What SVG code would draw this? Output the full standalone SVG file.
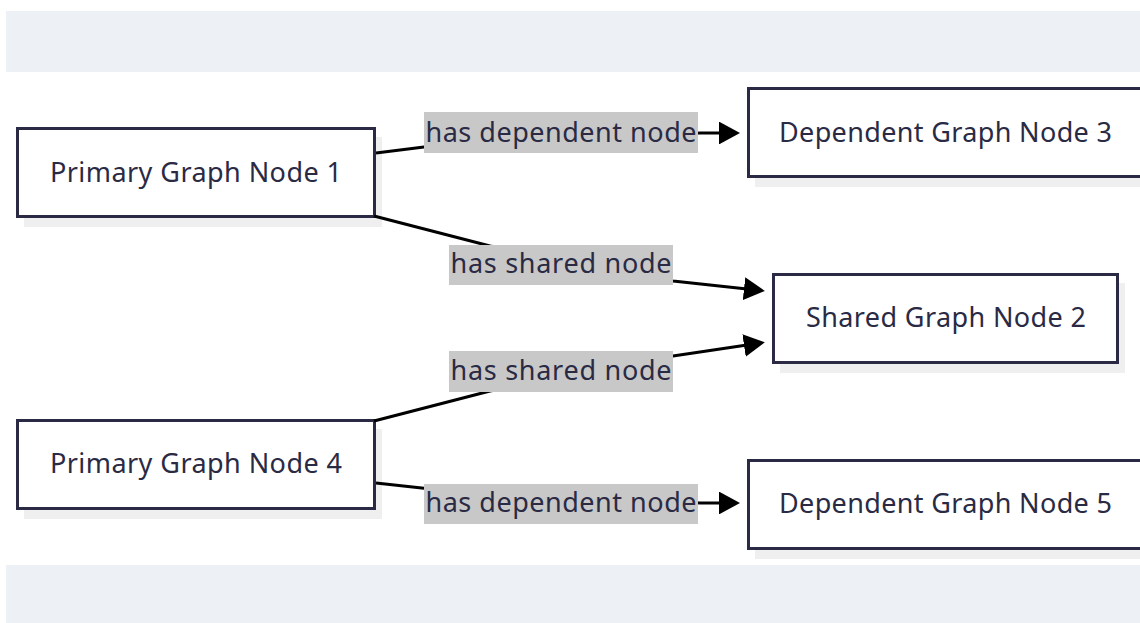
<svg xmlns="http://www.w3.org/2000/svg" width="1140" height="623" viewBox="0 0 1140 623">
  <style>
    .band { fill: #edf1f5; }
    .shadow { fill: #efefef; }
    .box { fill: #ffffff; stroke: #2a2a44; stroke-width: 3; }
    .ntext { font-family: "Noto Sans", "Open Sans", sans-serif; font-size: 27px; fill: #2a2a44; text-anchor: middle; }
    .edge { fill: none; stroke: #000000; stroke-width: 3; }
    .lbl { fill: #c8c8c8; }
    .ltext { font-family: "Noto Sans", "Open Sans", sans-serif; font-size: 27px; fill: #2a2a44; text-anchor: middle; }
  </style>
  <defs>
    <marker id="arrow" markerWidth="8" markerHeight="7.6" refX="1" refY="3.8" orient="auto" markerUnits="strokeWidth">
      <path d="M0,0 L7,3.8 L0,7.6 Z" fill="#000000"/>
    </marker>
  </defs>

  <!-- page bands -->
  <rect class="band" x="6" y="11" width="1134" height="61"/>
  <rect class="band" x="6" y="565" width="1134" height="58"/>

  <!-- nodes -->
  <g id="node1">
    <rect class="shadow" x="24" y="137" width="358" height="90"/>
    <rect class="box" x="17.5" y="128.5" width="357" height="88"/>
    <text class="ntext" x="196" y="182" textLength="292" lengthAdjust="spacing">Primary Graph Node 1</text>
  </g>
  <g id="node2">
    <rect class="shadow" x="780" y="283" width="345" height="90"/>
    <rect class="box" x="773.5" y="274.5" width="344" height="88"/>
    <text class="ntext" x="946" y="327" textLength="280" lengthAdjust="spacing">Shared Graph Node 2</text>
  </g>
  <g id="node3">
    <rect class="shadow" x="755" y="97" width="400" height="90"/>
    <rect class="box" x="748.5" y="88.5" width="400" height="88"/>
    <text class="ntext" x="945.5" y="142" textLength="333" lengthAdjust="spacing">Dependent Graph Node 3</text>
  </g>
  <g id="node4">
    <rect class="shadow" x="24" y="429" width="358" height="90"/>
    <rect class="box" x="17.5" y="420.5" width="357" height="88"/>
    <text class="ntext" x="196" y="473" textLength="292" lengthAdjust="spacing">Primary Graph Node 4</text>
  </g>
  <g id="node5">
    <rect class="shadow" x="755" y="469" width="400" height="90"/>
    <rect class="box" x="748.5" y="460.5" width="400" height="88"/>
    <text class="ntext" x="945.5" y="513" textLength="333" lengthAdjust="spacing">Dependent Graph Node 5</text>
  </g>

  <!-- connectors -->
  <g id="connectors">
    <path class="edge" d="M376,153 L440,145 L700,133 L722,133" marker-end="url(#arrow)"/>
    <path class="edge" d="M374,216 L490,246 L673,281 L747,289" marker-end="url(#arrow)"/>
    <path class="edge" d="M374,421 L490,391 L673,356 L747,345" marker-end="url(#arrow)"/>
    <path class="edge" d="M376,483 L440,490 L700,503 L722,503" marker-end="url(#arrow)"/>
    <g id="edge-labels">
      <rect class="lbl" x="424" y="112" width="274" height="41"/>
      <text class="ltext" x="561" y="142" textLength="271" lengthAdjust="spacing">has dependent node</text>
      <rect class="lbl" x="449" y="245" width="224" height="40"/>
      <text class="ltext" x="561" y="273" textLength="221" lengthAdjust="spacing">has shared node</text>
      <rect class="lbl" x="449" y="351" width="224" height="41"/>
      <text class="ltext" x="561" y="380" textLength="221" lengthAdjust="spacing">has shared node</text>
      <rect class="lbl" x="424" y="484" width="274" height="40"/>
      <text class="ltext" x="561" y="512" textLength="271" lengthAdjust="spacing">has dependent node</text>
    </g>
  </g>
</svg>
